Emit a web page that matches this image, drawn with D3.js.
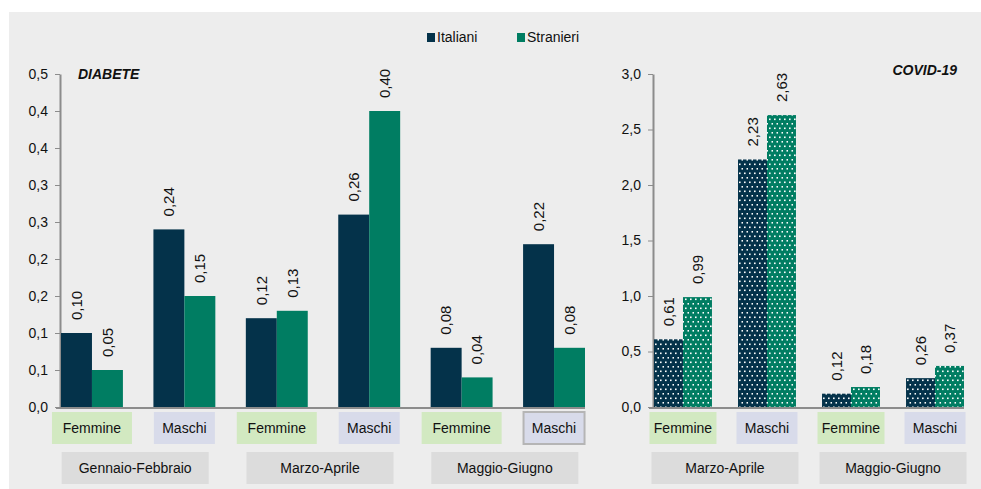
<!DOCTYPE html>
<html>
<head>
<meta charset="utf-8">
<script src="https://d3js.org/d3.v7.min.js"></script>
<style>
body { margin: 0; background: #ffffff; }
svg text { font-family: "Liberation Sans", Arial, sans-serif; fill: #111111; }
</style>
</head>
<body>
<div id="canvas"></div>
<script>
// ----------------------------------------------------------
// DATA -----------------------------------------------------
// ----------------------------------------------------------
var series = ["Italiani", "Stranieri"];
var sexes = ["Femmine", "Maschi"];
// diabete
var diabete_periods = ["Gennaio-Febbraio", "Marzo-Aprile", "Maggio-Giugno"];
var diabete_italiani = [0.10, 0.24, 0.12, 0.26, 0.08, 0.22];
var diabete_stranieri = [0.05, 0.15, 0.13, 0.40, 0.04, 0.08];
var diabete_ticks = [0, 0.05, 0.10, 0.15, 0.20, 0.25, 0.30, 0.35, 0.40, 0.45];
var diabete_tick_labels = ["0,0", "0,1", "0,1", "0,2", "0,2", "0,3", "0,3", "0,4", "0,4", "0,5"];
// covid
var covid_periods = ["Marzo-Aprile", "Maggio-Giugno"];
var covid_italiani = [0.61, 2.23, 0.12, 0.26];
var covid_stranieri = [0.99, 2.63, 0.18, 0.37];
var covid_ticks = [0, 0.5, 1.0, 1.5, 2.0, 2.5, 3.0];
var covid_tick_labels = ["0,0", "0,5", "1,0", "1,5", "2,0", "2,5", "3,0"];

// ----------------------------------------------------------
// LAYOUT SETTINGS ------------------------------------------
// ----------------------------------------------------------
var set = {
  width: 981,
  height: 489,
  color_bg: "#ededed",
  color_italiani: "#04324a",
  color_stranieri: "#007d62",
  color_axis: "#8c8c8c",
  color_femmine: "#d2e9c1",
  color_maschi: "#d8dbea",
  color_period: "#dcdcdc",
  y_base: 407,
  y_top: 74
};

var svg = d3.select("#canvas").append("svg")
  .attr("width", set.width)
  .attr("height", set.height);

// background panel
svg.append("rect")
  .attr("x", 9).attr("y", 12)
  .attr("width", set.width - 9).attr("height", set.height - 12)
  .style("fill", set.color_bg);

// dotted patterns for covid bars (staggered white dots)
var defs = svg.append("defs");
[["dots_0", set.color_italiani], ["dots_1", set.color_stranieri]].forEach(function(p) {
  var pat = defs.append("pattern")
    .attr("id", p[0])
    .attr("patternUnits", "userSpaceOnUse")
    .attr("width", 5).attr("height", 9);
  pat.append("rect").attr("width", 5).attr("height", 9).style("fill", p[1]);
  pat.append("rect").attr("x", 1).attr("y", 1.5).attr("width", 1.6).attr("height", 1.6).style("fill", "#ffffff");
  pat.append("rect").attr("x", 3.5).attr("y", 6).attr("width", 1.6).attr("height", 1.6).style("fill", "#ffffff");
});

// ----------------------------------------------------------
// LEGEND ---------------------------------------------------
// ----------------------------------------------------------
var legend = svg.append("g");
var legend_x = [427, 517];
series.forEach(function(s, i) {
  legend.append("rect")
    .attr("x", legend_x[i]).attr("y", 33)
    .attr("width", 8).attr("height", 9)
    .style("fill", i == 0 ? set.color_italiani : set.color_stranieri);
  legend.append("text")
    .attr("x", legend_x[i] + 10).attr("y", 42)
    .style("font-size", "14px")
    .text(s);
});

// ----------------------------------------------------------
// PANEL FUNCTION -------------------------------------------
// ----------------------------------------------------------
function drawPanel(cfg) {
  var rows = [];
  cfg.periods.forEach(function(p, pi) {
    sexes.forEach(function(s, si) {
      var k = pi * 2 + si;
      rows.push({ key: p + "|" + s, period: p, sex: s, values: [cfg.italiani[k], cfg.stranieri[k]] });
    });
  });

  var g = svg.append("g");

  var xScale = d3.scaleBand()
    .domain(rows.map(function(d) { return d.key; }))
    .range([cfg.x0, cfg.x1])
    .paddingInner(cfg.padding)
    .paddingOuter(0);
  var xSub = d3.scaleBand()
    .domain(series)
    .range([0, xScale.bandwidth()]);
  var yScale = d3.scaleLinear()
    .domain([0, d3.max(cfg.ticks)])
    .range([set.y_base, set.y_top]);

  // y axis
  g.append("g")
    .attr("transform", "translate(" + cfg.axis_x + ",0)")
    .call(d3.axisLeft(yScale)
      .tickValues(cfg.ticks)
      .tickFormat(function(d, i) { return cfg.tick_labels[i]; })
      .tickSize(5).tickSizeOuter(0).tickPadding(7))
    .call(function(ax) {
      ax.select(".domain").attr("stroke", set.color_axis).attr("stroke-width", 2);
      ax.selectAll(".tick line").attr("stroke", set.color_axis);
      ax.selectAll(".tick text")
        .attr("fill", "#111111")
        .style("font-family", "'Liberation Sans', Arial, sans-serif")
        .style("font-size", "14px");
    });

  // bars
  var groups = g.selectAll(".grp")
    .data(rows)
    .enter()
    .append("g")
    .attr("transform", function(d) { return "translate(" + xScale(d.key) + ",0)"; });

  groups.selectAll("rect")
    .data(function(d) { return d.values.map(function(v, i) { return { s: series[i], i: i, v: v }; }); })
    .enter()
    .append("rect")
    .attr("x", function(d) { return xSub(d.s); })
    .attr("width", xSub.bandwidth())
    .attr("y", function(d) { return yScale(d.v); })
    .attr("height", function(d) { return set.y_base - yScale(d.v); })
    .style("fill", function(d) {
      if (cfg.dotted) { return "url(#dots_" + d.i + ")"; }
      return d.i == 0 ? set.color_italiani : set.color_stranieri;
    });

  // value labels
  groups.selectAll("text")
    .data(function(d) { return d.values.map(function(v, i) { return { s: series[i], v: v }; }); })
    .enter()
    .append("text")
    .attr("transform", function(d) {
      return "translate(" + (xSub(d.s) + xSub.bandwidth() / 2) + "," + (yScale(d.v) - 13) + ") rotate(-90)";
    })
    .attr("dy", "0.35em")
    .style("font-size", "15px")
    .text(function(d) { return d3.format(".2f")(d.v).replace(".", ","); });

  // baseline
  g.append("line")
    .attr("x1", cfg.axis_x - 4).attr("x2", cfg.x1)
    .attr("y1", set.y_base + 1).attr("y2", set.y_base + 1)
    .attr("stroke", set.color_axis).attr("stroke-width", 2);

  // sex boxes
  rows.forEach(function(d, i) {
    var cx = xScale(d.key) + xScale.bandwidth() / 2;
    var w = d.sex == "Femmine" ? cfg.box_f : 61;
    var box = g.append("rect")
      .attr("x", cx - w / 2).attr("y", 412)
      .attr("width", w).attr("height", 32)
      .style("fill", d.sex == "Femmine" ? set.color_femmine : set.color_maschi);
    if (cfg.selected == i) {
      box.attr("stroke", "#b5b5b5").attr("stroke-width", 2);
    }
    g.append("text")
      .attr("x", cx).attr("y", 433)
      .attr("text-anchor", "middle")
      .style("font-size", "14px")
      .text(d.sex);
  });

  // period boxes
  cfg.periods.forEach(function(p, pi) {
    var a = xScale(rows[pi * 2].key);
    var b = xScale(rows[pi * 2 + 1].key) + xScale.bandwidth();
    var cx = (a + b) / 2 + cfg.period_shift;
    g.append("rect")
      .attr("x", cx - 73.5).attr("y", 452)
      .attr("width", 147).attr("height", 32)
      .style("fill", set.color_period);
    g.append("text")
      .attr("x", cx).attr("y", 473)
      .attr("text-anchor", "middle")
      .style("font-size", "14px")
      .text(p);
  });

  // title
  g.append("text")
    .attr("x", cfg.title_x).attr("y", cfg.title_y)
    .attr("text-anchor", cfg.title_anchor)
    .style("font-size", "14px")
    .style("font-weight", "bold")
    .style("font-style", "italic")
    .text(cfg.title);
}

// ----------------------------------------------------------
// PANELS ---------------------------------------------------
// ----------------------------------------------------------
drawPanel({
  periods: diabete_periods,
  italiani: diabete_italiani,
  stranieri: diabete_stranieri,
  ticks: diabete_ticks,
  tick_labels: diabete_tick_labels,
  x0: 61, x1: 585, axis_x: 60, padding: 0.33,
  box_f: 80, selected: 5, period_shift: -3,
  dotted: false,
  title: "DIABETE", title_x: 78, title_y: 79, title_anchor: "start"
});

drawPanel({
  periods: covid_periods,
  italiani: covid_italiani,
  stranieri: covid_stranieri,
  ticks: covid_ticks,
  tick_labels: covid_tick_labels,
  x0: 654, x1: 964, axis_x: 653, padding: 0.31,
  box_f: 67, selected: -1, period_shift: 0,
  dotted: true,
  title: "COVID-19", title_x: 957, title_y: 75, title_anchor: "end"
});
</script>
</body>
</html>
